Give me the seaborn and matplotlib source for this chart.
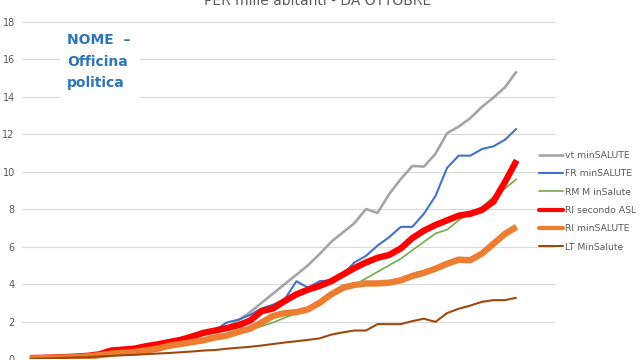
import pandas as pd
import seaborn as sns
import matplotlib.pyplot as plt
from matplotlib.lines import Line2D
from matplotlib.patches import Rectangle

# valori per mille abitanti, un punto al giorno da ottobre
giorni = list(range(43))

vt_min = [0.05, 0.06, 0.08, 0.1, 0.13, 0.17, 0.25, 0.45, 0.5, 0.55, 0.68, 0.78, 0.9, 1.02, 1.2, 1.4,
          1.52, 1.7, 2.05, 2.5, 3.0, 3.5, 4.0, 4.5, 5.0, 5.6, 6.25, 6.75, 7.25, 8.0, 7.8, 8.8, 9.6,
          10.3, 10.27, 10.95, 12.05, 12.4, 12.85, 13.45, 13.95, 14.5, 15.35]
fr_min = [0.05, 0.06, 0.08, 0.1, 0.13, 0.17, 0.25, 0.45, 0.5, 0.55, 0.68, 0.78, 0.9, 1.02, 1.2, 1.4,
          1.55, 1.95, 2.1, 2.35, 2.7, 2.9, 3.2, 4.15, 3.8, 4.15, 4.2, 4.5, 5.15, 5.5, 6.05, 6.5, 7.05,
          7.05, 7.75, 8.7, 10.2, 10.85, 10.85, 11.2, 11.35, 11.7, 12.3]
rm_min = [0.03, 0.04, 0.05, 0.07, 0.1, 0.13, 0.18, 0.26, 0.3, 0.35, 0.43, 0.52, 0.65, 0.75, 0.85, 0.95,
          1.1, 1.2, 1.35, 1.55, 1.75, 1.95, 2.2, 2.45, 2.7, 3.0, 3.35, 3.65, 3.95, 4.3, 4.65, 5.0, 5.35,
          5.8, 6.25, 6.7, 6.9, 7.4, 7.8, 8.1, 8.65, 9.1, 9.6]
ri_asl = [0.05, 0.06, 0.08, 0.1, 0.13, 0.17, 0.25, 0.45, 0.5, 0.55, 0.68, 0.78, 0.9, 1.02, 1.2, 1.4,
          1.52, 1.65, 1.8, 2.05, 2.55, 2.7, 3.1, 3.45, 3.7, 3.9, 4.15, 4.5, 4.85, 5.15, 5.4, 5.55, 5.9,
          6.45, 6.85, 7.15, 7.4, 7.65, 7.75, 7.95, 8.4, 9.45, 10.6]
ri_min = [0.03, 0.04, 0.06, 0.08, 0.1, 0.14, 0.2, 0.28, 0.33, 0.38, 0.46, 0.55, 0.7, 0.8, 0.9, 1.0,
          1.15, 1.25, 1.45, 1.62, 1.95, 2.3, 2.45, 2.5, 2.65, 3.0, 3.45, 3.8, 3.95, 4.03, 4.03, 4.07, 4.2,
          4.43, 4.6, 4.82, 5.08, 5.3, 5.27, 5.62, 6.15, 6.68, 7.05]
lt_min = [0.0, 0.02, 0.04, 0.06, 0.08, 0.1, 0.14, 0.17, 0.2, 0.22, 0.26, 0.29, 0.32, 0.36, 0.4, 0.45,
          0.48, 0.55, 0.6, 0.65, 0.72, 0.8, 0.88, 0.95, 1.02, 1.1, 1.3, 1.42, 1.52, 1.52, 1.86, 1.86, 1.86,
          2.02, 2.15, 1.98, 2.45, 2.68, 2.85, 3.05, 3.14, 3.14, 3.27]

serie = ["vt minSALUTE", "FR minSALUTE", "RM M inSalute", "RI secondo ASL", "RI minSALUTE", "LT MinSalute"]
colori = ["#A5A5A5", "#4472C4", "#70AD47", "#FF0000", "#ED7D31", "#9E480E"]
spessori = [1.9, 1.5, 1.2, 4.6, 4.6, 1.5]

df = pd.concat([
    pd.DataFrame({"giorno": giorni, "valore": vals, "serie": nome})
    for nome, vals in zip(serie, [vt_min, fr_min, rm_min, ri_asl, ri_min, lt_min])
])

sns.set_style("white")
plt.rcParams["font.family"] = ["DejaVu Sans"]

fig = plt.figure(figsize=(6.4, 3.6), dpi=100)
ax = fig.add_axes([0.034, 0.0028, 0.833, 0.937])

sns.lineplot(data=df, x="giorno", y="valore", hue="serie", size="serie",
             hue_order=serie, size_order=serie,
             palette=dict(zip(serie, colori)), sizes=dict(zip(serie, spessori)),
             legend=False, ax=ax, solid_capstyle="butt")

ax.set_xlim(-0.7, 45.3)
ax.set_ylim(0, 18)
ax.set_yticks(range(0, 19, 2))
ax.set_xticks([])
ax.set_xlabel("")
ax.set_ylabel("")
ax.grid(axis="y", color="#D9D9D9", linewidth=0.8)
ax.set_axisbelow(True)
for s in ax.spines.values():
    s.set_visible(False)
ax.tick_params(axis="y", length=0, pad=5, labelsize=7, labelcolor="#595959")

# titolo tagliato in alto
fig.text(0.497, 0.986, "PER mille abitanti - DA OTTOBRE", ha="center", va="baseline",
         fontsize=10, color="#595959")

# riquadro con la scritta
fig.add_artist(Rectangle((60 / 640, 1 - 100 / 360), 80 / 640, 75 / 360,
                         transform=fig.transFigure, facecolor="white", edgecolor="none", zorder=2))
fig.text(67 / 640, 1 - 33 / 360, "NOME  \u2013\nOfficina\npolitica", ha="left", va="top",
         fontsize=10, fontweight="bold", color="#2E75B6", linespacing=1.7, zorder=3)

handles = [Line2D([], [], color=c, linewidth=w if w < 4 else 3.0) for c, w in zip(colori, spessori)]
leg = fig.legend(handles, serie, loc="upper left", bbox_to_anchor=(539 / 640, 1 - 151 / 360),
                 frameon=False, fontsize=6.7, handlelength=2.6, handletextpad=0.2,
                 labelspacing=1.0, borderaxespad=0, borderpad=0)
for t in leg.get_texts():
    t.set_color("#595959")

fig.savefig("out.png", dpi=100)
